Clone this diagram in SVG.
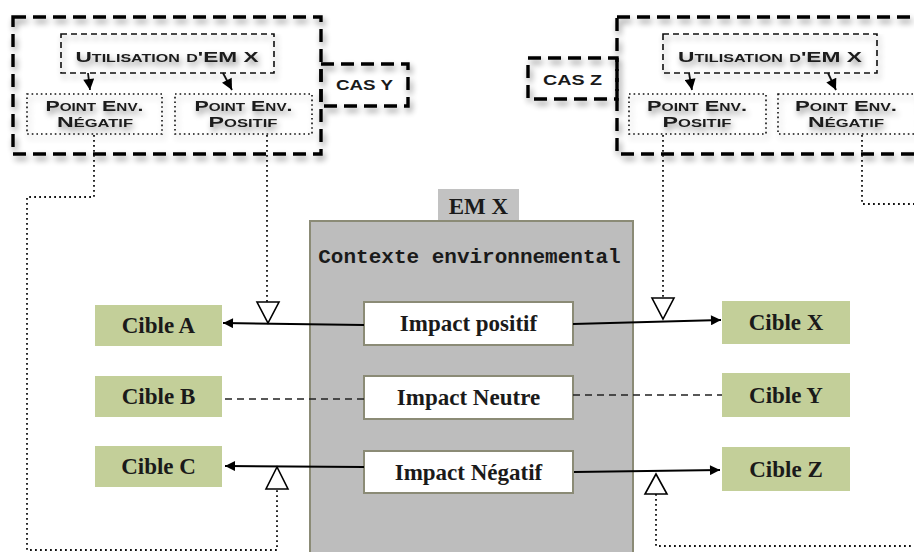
<svg xmlns="http://www.w3.org/2000/svg" width="914" height="552" viewBox="0 0 914 552">
<defs>
<filter id="sh" x="-10%" y="-10%" width="130%" height="140%">
<feGaussianBlur in="SourceAlpha" stdDeviation="3"/>
<feOffset dx="2" dy="4" result="b"/>
<feComponentTransfer><feFuncA type="linear" slope="0.45"/></feComponentTransfer>
<feMerge><feMergeNode/><feMergeNode in="SourceGraphic"/></feMerge>
</filter>
<marker id="ah" viewBox="0 0 10 10" refX="10" refY="5" markerWidth="16" markerHeight="10" markerUnits="userSpaceOnUse" orient="auto">
<path d="M0,0 L10,5 L0,10 z" fill="#000"/>
</marker>
<marker id="ahs" viewBox="0 0 10 10" refX="10" refY="5" markerWidth="12" markerHeight="11" markerUnits="userSpaceOnUse" orient="auto">
<path d="M0,0 L10,5 L0,10 z" fill="#000"/>
</marker>
</defs>
<style>
.big{fill:none;stroke:#000;stroke-width:3.4;stroke-dasharray:13 7}
.util{fill:none;stroke:#111;stroke-width:1.6;stroke-dasharray:6 4}
.pt{fill:none;stroke:#111;stroke-width:1.6;stroke-dasharray:1.6 3}
.cap{font-family:"Liberation Sans",Arial,sans-serif;font-weight:bold;font-variant:small-caps;font-size:15.5px;fill:#1a1a1a;text-anchor:middle}
.cap2{font-size:14px}
.dot{fill:none;stroke:#111;stroke-width:1.8;stroke-dasharray:1.8 3.2}
.tri{fill:#fff;stroke:#000;stroke-width:1.6}
.ln{fill:none;stroke:#000;stroke-width:2}
.dash{fill:none;stroke:#222;stroke-width:1.6;stroke-dasharray:7 5}
.cible rect{fill:#c3cf99}
.imp rect{fill:#fff;stroke:#8b8b76;stroke-width:2}
.ser{font-family:"Liberation Serif","Times New Roman",serif;font-weight:bold;font-size:23px;fill:#1a1a1a;text-anchor:middle}
.small{fill:#111;stroke:#111;stroke-width:1.8}
</style>
<rect width="914" height="552" fill="#fff"/>

<g id="casY-group" filter="url(#sh)">
<rect class="big" x="13" y="17" width="308" height="137"/>
<rect class="big" x="321" y="64" width="87" height="42"/>
</g>
<g id="casZ-group" filter="url(#sh)">
<rect class="big" x="617" y="17" width="320" height="137"/>
<rect class="big" x="528" y="58" width="89" height="41"/>
</g>

<g id="util-left" filter="url(#sh)">
<rect class="util" x="61" y="34" width="213" height="39" fill="#fff"/>
<text class="cap" x="167" y="62" textLength="183" lengthAdjust="spacingAndGlyphs">Utilisation d'EM X</text>
</g>
<g id="neg-left" filter="url(#sh)">
<rect class="pt" x="27" y="94" width="135" height="40" fill="#fff"/>
<text class="cap cap2" x="94.5" y="111" textLength="98" lengthAdjust="spacingAndGlyphs">Point Env.</text>
<text class="cap cap2" x="95" y="127" textLength="76" lengthAdjust="spacingAndGlyphs">Négatif</text>
</g>
<g id="pos-left" filter="url(#sh)">
<rect class="pt" x="175" y="94" width="137" height="40" fill="#fff"/>
<text class="cap cap2" x="243.5" y="111" textLength="98" lengthAdjust="spacingAndGlyphs">Point Env.</text>
<text class="cap cap2" x="243" y="127" textLength="69" lengthAdjust="spacingAndGlyphs">Positif</text>
</g>
<g id="casY">
<text class="cap" x="364.5" y="90" textLength="57" lengthAdjust="spacingAndGlyphs">CAS Y</text>
</g>

<g id="util-right" filter="url(#sh)">
<rect class="util" x="663" y="34" width="214" height="39" fill="#fff"/>
<text class="cap" x="770" y="62" textLength="184" lengthAdjust="spacingAndGlyphs">Utilisation d'EM X</text>
</g>
<g id="pos-right" filter="url(#sh)">
<rect class="pt" x="629" y="94" width="137" height="40" fill="#fff"/>
<text class="cap cap2" x="697" y="111" textLength="100" lengthAdjust="spacingAndGlyphs">Point Env.</text>
<text class="cap cap2" x="697" y="127" textLength="69" lengthAdjust="spacingAndGlyphs">Positif</text>
</g>
<g id="neg-right" filter="url(#sh)">
<rect class="pt" x="778" y="94" width="140" height="40" fill="#fff"/>
<text class="cap cap2" x="846" y="111" textLength="102" lengthAdjust="spacingAndGlyphs">Point Env.</text>
<text class="cap cap2" x="846" y="127" textLength="76" lengthAdjust="spacingAndGlyphs">Négatif</text>
</g>
<g id="casZ">
<text class="cap" x="572.5" y="85" textLength="59" lengthAdjust="spacingAndGlyphs">CAS Z</text>
</g>

<g id="emx">
<rect x="438" y="189" width="81" height="33" fill="#c2c2c2"/>
<text class="ser" x="478.5" y="214" font-size="21">EM X</text>
<rect x="310" y="221" width="323" height="340" fill="#bdbdbd" stroke="#8b8b76" stroke-width="2"/>
<text x="469.5" y="263" font-family="'Liberation Mono','Courier New',monospace" font-weight="bold" font-size="21" fill="#1a1a1a" text-anchor="middle">Contexte environnemental</text>
</g>

<g id="impact-positif" class="imp">
<rect x="364" y="302" width="209" height="43"/>
<text class="ser" x="468.5" y="331">Impact positif</text>
</g>
<g id="impact-neutre" class="imp">
<rect x="364" y="376" width="209" height="43"/>
<text class="ser" x="468.5" y="405">Impact Neutre</text>
</g>
<g id="impact-negatif" class="imp">
<rect x="364" y="451" width="209" height="42"/>
<text class="ser" x="468.5" y="480">Impact Négatif</text>
</g>

<g id="cible-a" class="cible"><rect x="95" y="305" width="127" height="41"/><text class="ser" x="158.5" y="333">Cible A</text></g>
<g id="cible-b" class="cible"><rect x="95" y="376" width="127" height="41"/><text class="ser" x="158.5" y="404">Cible B</text></g>
<g id="cible-c" class="cible"><rect x="95" y="446" width="127" height="41"/><text class="ser" x="158.5" y="474">Cible C</text></g>
<g id="cible-x" class="cible"><rect x="722" y="301" width="128" height="43"/><text class="ser" x="786" y="330">Cible X</text></g>
<g id="cible-y" class="cible"><rect x="722" y="373" width="128" height="44"/><text class="ser" x="786" y="403">Cible Y</text></g>
<g id="cible-z" class="cible"><rect x="722" y="447" width="128" height="44"/><text class="ser" x="786" y="477">Cible Z</text></g>

<g id="connectors">
<line class="small" x1="88" y1="73" x2="90" y2="90" marker-end="url(#ahs)"/>
<line class="small" x1="223" y1="73" x2="232" y2="90" marker-end="url(#ahs)"/>
<line class="small" x1="689" y1="73" x2="692" y2="90" marker-end="url(#ahs)"/>
<line class="small" x1="828" y1="73" x2="836" y2="90" marker-end="url(#ahs)"/>

<path class="dot" d="M94,135 V197 H27 V550 H277 V490"/>
<path class="dot" d="M267,135 V302"/>
<path class="dot" d="M663,135 V298"/>
<path class="dot" d="M862,135 V204 H914"/>
<path class="dot" d="M656,494 V546 H914"/>

<path class="ln" d="M364,325 L223,323" marker-end="url(#ah)"/>
<path class="ln" d="M573,324 L721,320" marker-end="url(#ah)"/>
<path class="ln" d="M364,467 L225,466" marker-end="url(#ah)"/>
<path class="ln" d="M574,472 L720,470" marker-end="url(#ah)"/>
<path class="dash" d="M364,399 H222"/>
<path class="dash" d="M573,395 H722"/>

<polygon class="tri" points="257,302 279,302 268,323"/>
<polygon class="tri" points="277,467 266,489 288,489"/>
<polygon class="tri" points="652,298 674,298 663,319"/>
<polygon class="tri" points="656,474 645,494 667,494"/>
</g>
</svg>
